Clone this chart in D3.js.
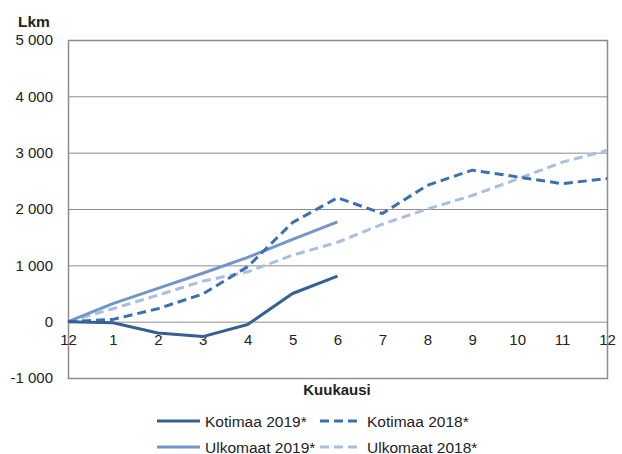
<!DOCTYPE html>
<html><head><meta charset="utf-8">
<script src="https://cdn.jsdelivr.net/npm/d3@7"></script>
<style>body{margin:0;background:#fff;} text{font-family:"Liberation Sans",Arial,sans-serif;}</style>
</head><body><svg id="c" width="622" height="454"></svg>
<script>
const months = ["12","1","2","3","4","5","6","7","8","9","10","11","12"];
const yTicks = [-1000,0,1000,2000,3000,4000,5000];
const kotimaa2019 = [0,-20,-200,-265,-50,500,810];
const kotimaa2018 = [0,40,230,490,975,1760,2200,1920,2420,2690,2570,2450,2540];
const ulkomaat2019 = [0,320,590,860,1140,1460,1770];
const ulkomaat2018 = [0,230,470,720,885,1180,1410,1730,2000,2240,2530,2830,3040];
const seriesNames = ["Kotimaa 2019*","Kotimaa 2018*","Ulkomaat 2019*","Ulkomaat 2018*"];
const colors = ["#376092","#3C6FAE","#7396CA","#A9BFDD"];
const dashes = [null,"9,5",null,"9,5"];
const data = [kotimaa2019,kotimaa2018,ulkomaat2019,ulkomaat2018];

const svg = d3.select("#c");
const L=68,R=607,T=40,B=378;
const x = d3.scalePoint().domain(d3.range(months.length)).range([L,R]);
const y = d3.scaleLinear().domain([-1000,5000]).range([B,T]);
const fmt = v => d3.format(",")(v).replace(/,/g," ").replace("\u2212","-");

// gridlines
svg.append("g").selectAll("line").data(yTicks).join("line")
  .attr("x1",L).attr("x2",R).attr("y1",d=>y(d)+0.5).attr("y2",d=>y(d)+0.5)
  .attr("stroke","#8c8c8c").attr("stroke-width",1);
// box
svg.append("rect").attr("x",L+0.5).attr("y",T+0.5).attr("width",R-L).attr("height",B-T)
  .attr("fill","none").attr("stroke","#8c8c8c").attr("stroke-width",1.5);

// y axis labels
const ya = d3.axisLeft(y).tickValues(yTicks).tickFormat(fmt).tickSize(0).tickPadding(15);
const yg = svg.append("g").attr("transform",`translate(${L},0)`).call(ya);
yg.select(".domain").remove();
yg.selectAll("text").attr("font-size",15).attr("fill","#222").attr("font-family","Liberation Sans, Arial, sans-serif");

// x axis labels at zero line
const xa = d3.axisBottom(x).tickFormat(i=>months[i]).tickSize(0).tickPadding(13);
const xg = svg.append("g").attr("transform",`translate(0,${y(0)})`).call(xa);
xg.select(".domain").remove();
xg.selectAll("text").attr("font-size",15).attr("fill","#222").attr("font-family","Liberation Sans, Arial, sans-serif");

// lines
const line = d3.line().x((d,i)=>x(i)).y(d=>y(d));
[3,2,1,0].forEach(k=>{
  svg.append("path").datum(data[k]).attr("d",line).attr("fill","none")
    .attr("stroke",colors[k]).attr("stroke-width",3)
    .attr("stroke-dasharray",dashes[k]).attr("stroke-linejoin","round");
});

// titles
svg.append("text").attr("x",18).attr("y",27).attr("font-size",15.5).attr("font-weight","bold").attr("fill","#222").text("Lkm");
svg.append("text").attr("x",337).attr("y",395).attr("text-anchor","middle").attr("font-size",15).attr("font-weight","bold").attr("fill","#222").text("Kuukausi");

// legend
const legPos=[[157,200,205,421],[320,358,367,421],[157,200,205,447],[320,358,367,447]];
seriesNames.forEach((n,k)=>{
  const [x1,x2,tx,ly]=legPos[k];
  const g=svg.append("g");
  g.append("line").attr("x1",x1).attr("x2",x2).attr("y1",ly).attr("y2",ly)
    .attr("stroke",colors[k]).attr("stroke-width",3).attr("stroke-dasharray",dashes[k]);
  g.append("text").attr("x",tx).attr("y",ly+5.5).attr("font-size",15.5).attr("fill","#222").text(n);
});
</script></body></html>
